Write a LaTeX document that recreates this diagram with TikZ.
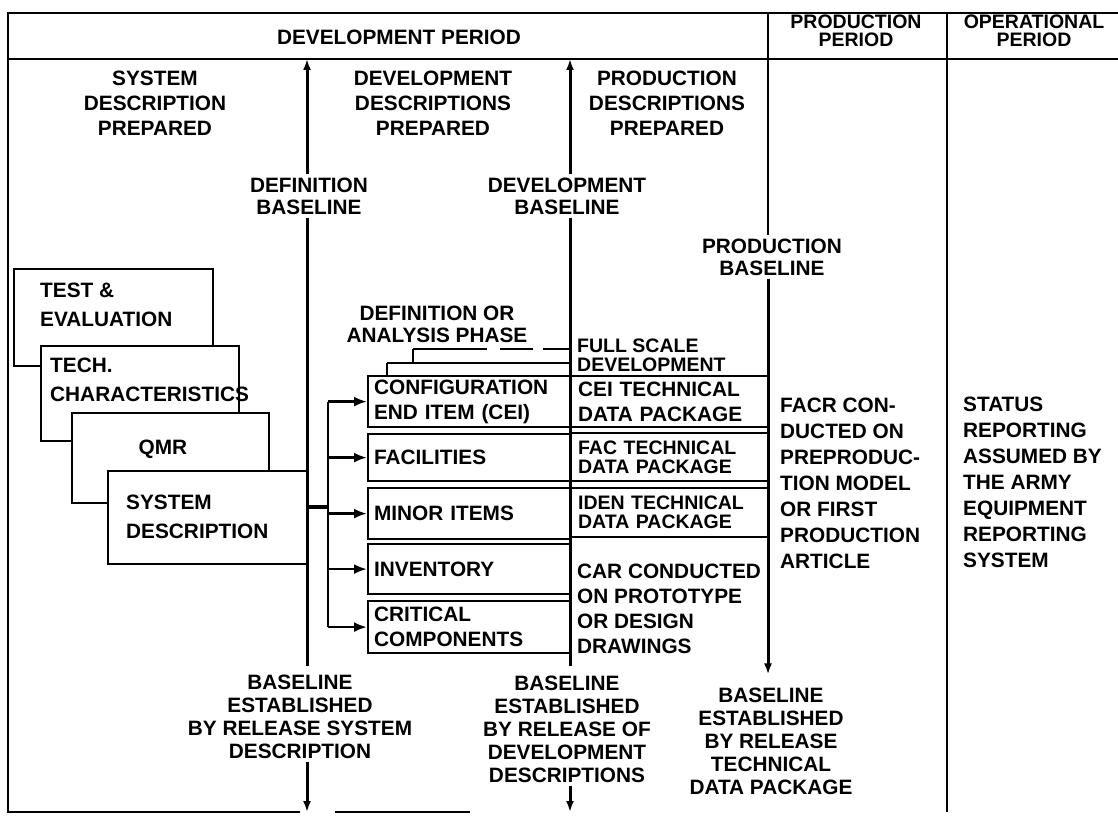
\documentclass[tikz,border=0pt]{standalone}
\usepackage{fontspec}
\setmainfont{Liberation Sans}
\usetikzlibrary{arrows.meta,positioning}

\newcommand{\chartfont}[1]{\bfseries\fontsize{20.8}{#1}\selectfont}
\newcommand{\tightfont}[1]{\bfseries\fontsize{19.5}{#1}\selectfont}

\begin{document}
\begin{tikzpicture}[x=1pt, y=-1pt,
    txt/.style={font=\chartfont{25}, align=center, inner sep=3pt},
    lefttxt/.style={font=\chartfont{25}, align=left, anchor=west, inner sep=0pt},
    cellbox/.style={draw, line width=2.2pt, anchor=north west, align=left,
                    font=\chartfont{25}, inner xsep=6pt, inner ysep=0pt},
    stackbox/.style={draw, line width=2.2pt, fill=white, anchor=north west, inner sep=0pt},
    frame/.style={line width=2.4pt},
    baseln/.style={line width=3pt},
    bracketln/.style={line width=2pt},
    feed/.style={line width=2.6pt, -{Latex[length=13pt,width=10pt]}},
    tip/.style={-{Latex[length=11pt,width=8pt]}}
]
\useasboundingbox (0,0) rectangle (1118,818);

% --- Frame ---
\coordinate (tl) at (8,13);
\coordinate (tr) at (1118,13);
\coordinate (hl) at (8,59);
\coordinate (hr) at (1118,59);
\coordinate (bl) at (8,812);
\coordinate (bm) at (300,812);
\coordinate (bn) at (335,812);
\coordinate (br) at (470,812);
\coordinate (opertop) at (947,13);
\coordinate (operbot) at (947,812);
\draw[frame] (tr) -- (tl) -- (bl) -- (bm);
\draw[frame] (bn) -- (br);
\draw[frame] (hl) -- (hr);
\draw[frame] (opertop) -- (operbot);

% --- Period headers ---
\node[txt] (devper) at (399,37) {DEVELOPMENT PERIOD};
\node[txt, font=\tightfont{18}] (prodper) at (856,31) {PRODUCTION\\PERIOD};
\node[txt, font=\tightfont{18}] (operper) at (1034,31) {OPERATIONAL\\PERIOD};

% --- Column headings ---
\node[txt] (syshead) at (155,103) {SYSTEM\\DESCRIPTION\\PREPARED};
\node[txt] (devhead) at (433,103) {DEVELOPMENT\\DESCRIPTIONS\\PREPARED};
\node[txt] (prodhead) at (667,103) {PRODUCTION\\DESCRIPTIONS\\PREPARED};

% --- Stacked documents ---
\node[stackbox, minimum width=199, minimum height=97] (testbox) at (13,268) {};
\node[lefttxt, font=\chartfont{29}] (testtxt) at (40,305) {TEST \&\\EVALUATION};
\node[stackbox, minimum width=198, minimum height=95] (techbox) at (40,345) {};
\node[lefttxt, font=\chartfont{29}] (techtxt) at (50,380) {TECH.\\CHARACTERISTICS};
\node[stackbox, minimum width=197, minimum height=90] (qmrbox) at (71,412) {};
\node[txt] (qmrtxt) at (163,449) {QMR};
\node[stackbox, minimum width=200, minimum height=93] (sysbox) at (107,470) {};
\node[lefttxt, font=\chartfont{29}] (systxt) at (126,517) {SYSTEM\\DESCRIPTION};

% --- Baseline labels ---
\node[txt, font=\chartfont{22}] (defbase) at (309,196) {DEFINITION\\BASELINE};
\node[txt, font=\chartfont{22}] (devbase) at (567,196) {DEVELOPMENT\\BASELINE};
\node[txt, font=\chartfont{22}] (prodbase) at (772,257) {PRODUCTION\\BASELINE};
\node[txt, font=\chartfont{23}] (defrel) at (300,717)
    {BASELINE\\ESTABLISHED\\BY RELEASE SYSTEM\\DESCRIPTION};
\node[txt, font=\chartfont{23}] (devrel) at (567,729)
    {BASELINE\\ESTABLISHED\\BY RELEASE OF\\DEVELOPMENT\\DESCRIPTIONS};
\node[txt, font=\chartfont{23}] (prodrel) at (771,741)
    {BASELINE\\ESTABLISHED\\BY RELEASE\\TECHNICAL\\DATA PACKAGE};

% --- Phase labels ---
\node[txt, font=\chartfont{22}] (defphase) at (437,324) {DEFINITION OR\\ANALYSIS PHASE};
\node[lefttxt, font=\tightfont{19}] (fullscale) at (577,355) {FULL SCALE\\DEVELOPMENT};

% --- Development descriptions ---
\node[cellbox, minimum width=203, minimum height=51, text width=191] (ceibox) at (367,375)
    {CONFIGURATION\\END ITEM (CEI)};
\node[cellbox, minimum width=203, minimum height=47, text width=191] (facbox) at (367,433)
    {FACILITIES};
\node[cellbox, minimum width=203, minimum height=51, text width=191] (minbox) at (367,487)
    {MINOR ITEMS};
\node[cellbox, minimum width=203, minimum height=50, text width=191] (invbox) at (367,543)
    {INVENTORY};
\node[cellbox, minimum width=203, minimum height=52, text width=191] (critbox) at (367,600)
    {CRITICAL\\COMPONENTS};

% --- Production descriptions ---
\node[cellbox, minimum width=198, minimum height=51, text width=184, inner xsep=7pt]
    (ceitech) at (570,375) {CEI TECHNICAL\\DATA PACKAGE};
\node[cellbox, minimum width=198, minimum height=48, text width=184, inner xsep=7pt,
      font=\tightfont{19}] (factech) at (570,432) {FAC TECHNICAL\\DATA PACKAGE};
\node[cellbox, minimum width=198, minimum height=49, text width=184, inner xsep=7pt,
      font=\tightfont{19}] (identech) at (570,487) {IDEN TECHNICAL\\DATA PACKAGE};
\node[lefttxt] (cartxt) at (577,609) {CAR CONDUCTED\\ON PROTOTYPE\\OR DESIGN\\DRAWINGS};

% --- Later periods ---
\node[lefttxt, font=\chartfont{26}] (facrtxt) at (780,483)
    {FACR CON-\\DUCTED ON\\PREPRODUC-\\TION MODEL\\OR FIRST\\PRODUCTION\\ARTICLE};
\node[lefttxt, font=\chartfont{26}] (statustxt) at (963,482)
    {STATUS\\REPORTING\\ASSUMED BY\\THE ARMY\\EQUIPMENT\\REPORTING\\SYSTEM};

% --- Phase brackets ---
\coordinate (phA) at (413,349);
\coordinate (phB) at (570,349);
\coordinate (phC) at (387,363);
\coordinate (phD) at (570,363);
\draw[bracketln, dash pattern=on 74pt off 13pt on 33pt off 10pt on 30pt] (phA) -- (phB);
\draw[bracketln] (phA) -- (phA |- phC);
\draw[bracketln] (phC) -- (phD);
\draw[bracketln] (phC) -- (phC |- ceibox.north);

% --- Baselines ---
\coordinate (defx) at (307,59);
\coordinate (devx) at (570,59);
\coordinate (prodx) at (768,13);
\draw[baseln, tip] (defbase.north -| defx) -- (defx);
\draw[baseln, shorten >=6pt] (defbase.south -| defx) -- (defrel.north -| defx);
\draw[baseln, tip] (defrel.south -| defx) -- (defx |- bl);
\draw[baseln, tip] (devbase.north -| devx) -- (devx);
\draw[baseln, shorten >=6pt] (devbase.south -| devx) -- (devrel.north -| devx);
\draw[baseln, tip] (devrel.south -| devx) -- (devx |- bl);
\draw[frame] (prodx) -- (prodbase.north -| prodx);
\draw[baseln, tip, shorten >=10pt] (prodbase.south -| prodx) -- (prodrel.north -| prodx);

% --- Release of system description ---
\coordinate (bus) at (328,507);
\draw[line width=4.5pt] (sysbox.east |- bus) -- (bus);
\draw[line width=2.6pt] (bus |- ceibox.west) -- (bus |- critbox.west);
\foreach \b in {ceibox,facbox,minbox,invbox,critbox}
    \draw[feed] (bus |- \b.west) -- (\b.west);

\end{tikzpicture}
\end{document}
